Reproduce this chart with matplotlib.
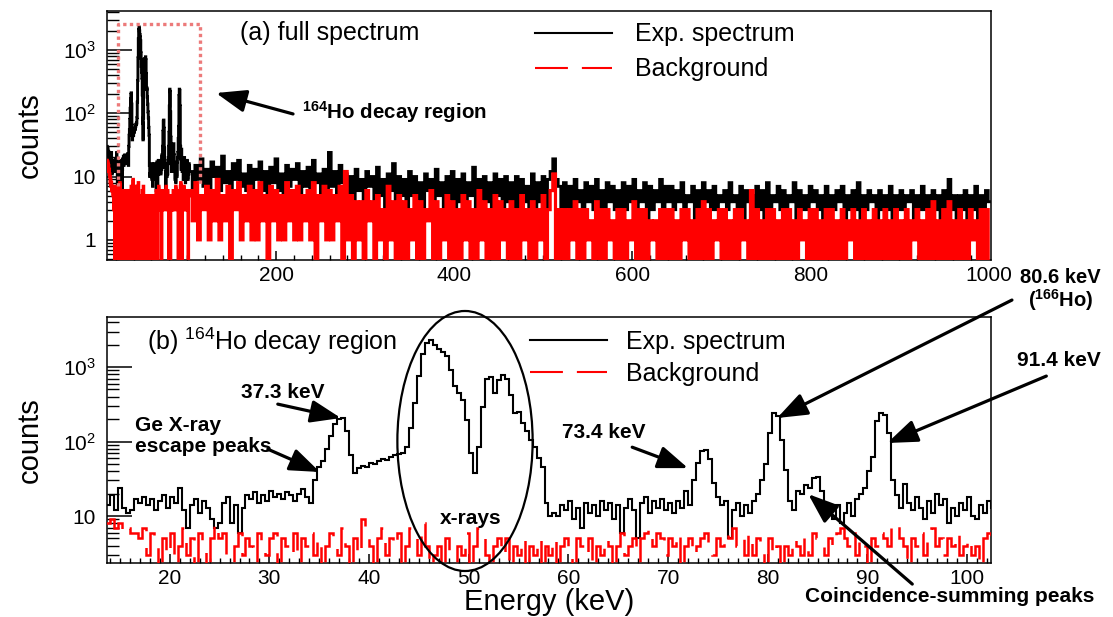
import numpy as np
import matplotlib
matplotlib.use('Agg')
import matplotlib.pyplot as plt
from matplotlib.lines import Line2D
from matplotlib.patches import Ellipse
from matplotlib.ticker import MultipleLocator, LogLocator, FuncFormatter, NullFormatter

plt.rcParams['font.family'] = ['Liberation Sans', 'DejaVu Sans']
plt.rcParams['mathtext.fontset'] = 'custom'
plt.rcParams['mathtext.rm'] = 'Liberation Sans'
plt.rcParams['mathtext.it'] = 'Liberation Sans:italic'
plt.rcParams['mathtext.bf'] = 'Liberation Sans:bold'

# ---- spectrum data -------------------------------------------------------
# lowest channels (10 - 13.6 keV), 0.4 keV bins
lo_start, lo_width = 10.0, 0.4
exp_lo = [30, 26, 28, 22, 25, 20, 24, 19, 21]
bkg_lo = [18, 16, 17, 14, 15, 12, 13, 11, 10]

# 164Ho decay region (13.6 - 102.8 keV), 0.4 keV bins
zoom_start, zoom_width = 13.6, 0.4
exp_zoom = [
    14, 19, 12, 24, 13, 11, 12, 17, 15, 18,
    14, 17, 12, 16, 19, 13, 18, 15, 24, 12,
    7, 14, 17, 11, 16, 13, 9, 7, 8, 15,
    18, 8, 14, 6, 13, 19, 17, 21, 15, 19,
    16, 22, 18, 20, 17, 21, 19, 16, 20, 23,
    18, 15, 30, 45, 55, 80, 120, 170, 200, 210,
    140, 65, 38, 44, 47, 45, 52, 50, 55, 58,
    56, 62, 66, 68, 70, 85, 150, 330, 750, 1500,
    2100, 2300, 2000, 1750, 1600, 1400, 900, 550, 450, 360,
    195, 70, 38, 84, 290, 700, 730, 450, 670, 780,
    700, 420, 240, 250, 180, 140, 105, 84, 60, 45,
    15, 10, 11, 10, 14, 12, 16, 9, 13, 7,
    15, 11, 14, 10, 16, 12, 15, 9, 14, 6,
    13, 17, 12, 5, 15, 18, 11, 16, 13, 17,
    12, 15, 11, 16, 13, 22, 14, 30, 52, 75,
    78, 58, 28, 18, 14, 16, 5, 12, 15, 10,
    14, 11, 16, 20, 30, 50, 130, 240, 220, 105,
    42, 16, 12, 22, 20, 26, 24, 32, 33, 22,
    15, 12, 9, 14, 8, 11, 15, 10, 17, 20,
    24, 40, 62, 190, 240, 230, 130, 30, 19, 13,
    27, 15, 12, 18, 13, 9, 16, 11, 20, 14,
    17, 8, 13, 10, 15, 12, 18, 10, 9, 14,
    11, 16, 13,
]
bkg_zoom = [
    8, 9, 7, 8, 6, 7, 6, 6, 5, 7,
    3, 6, 4, 0, 5, 3, 6, 0, 4, 7,
    3, 5, 0, 6, 4, 0, 5, 8, 5, 6,
    3, 0, 4, 6, 3, 5, 4, 0, 6, 4,
    3, 5, 6, 0, 5, 4, 3, 6, 0, 5,
    4, 6, 3, 5, 0, 4, 6, 5, 3, 7,
    4, 0, 5, 3, 9, 6, 4, 0, 5, 7,
    3, 5, 4, 6, 0, 4, 7, 5, 3, 8,
    4, 0, 3, 4, 0, 5, 3, 0, 4, 3,
    6, 0, 4, 7, 5, 3, 0, 4, 5, 3,
    5, 0, 4, 3, 5, 0, 4, 3, 5, 0,
    4, 3, 5, 0, 4, 5, 3, 0, 5, 4,
    3, 5, 0, 4, 3, 5, 4, 0, 4, 6,
    3, 4, 5, 0, 5, 6, 7, 4, 6, 5,
    3, 5, 4, 6, 0, 4, 5, 3, 4, 5,
    6, 4, 3, 5, 4, 6, 5, 7, 4, 5,
    3, 6, 3, 5, 4, 0, 5, 3, 4, 0,
    4, 3, 5, 4, 3, 5, 3, 6, 5, 4,
    3, 5, 4, 6, 7, 5, 4, 6, 3, 5,
    4, 0, 5, 4, 6, 5, 4, 7, 8, 5,
    4, 0, 5, 4, 6, 3, 5, 7, 4, 5,
    3, 5, 4, 6, 3, 4, 5, 3, 4, 0,
    5, 6, 5,
]

# rest of the full spectrum (102.8 - 1002.8 keV), 3 keV bins
hi_start, hi_width = 102.8, 3.0
exp_hi = [
    12, 6, 15, 9, 19, 7, 13, 5, 17, 10, 14, 6, 21, 8, 12, 5, 16, 9, 18, 7,
    11, 6, 15, 4, 13, 9, 17, 6, 12, 5, 14, 8, 19, 6, 11, 4, 15, 7, 13, 9,
    16, 5, 12, 7, 14, 4, 18, 8, 11, 5, 13, 6, 24, 7, 12, 5, 15, 8, 11, 4,
    10, 4, 13, 6, 9, 3, 12, 7, 10, 4, 14, 5, 9, 3, 11, 6, 16, 4, 10, 5,
    9, 3, 12, 5, 10, 4, 8, 2, 11, 6, 9, 3, 13, 5, 8, 3, 10, 4, 12, 2,
    9, 4, 11, 3, 8, 5, 14, 3, 9, 2, 10, 4, 8, 3, 11, 5, 9, 2, 10, 4,
    8, 3, 10, 2, 9, 4, 7, 2, 11, 3, 8, 4, 10, 3, 9, 12, 19, 9, 7, 3,
    8, 3, 7, 3, 9, 4, 6, 3, 8, 4, 7, 3, 9, 3, 6, 3, 8, 4, 7, 3,
    6, 3, 8, 3, 7, 4, 9, 3, 6, 4, 8, 1, 7, 3, 6, 4, 9, 3, 7, 4,
    7, 3, 6, 4, 8, 3, 5, 4, 7, 2, 6, 3, 8, 4, 6, 3, 7, 3, 5, 4,
    6, 3, 8, 4, 5, 3, 7, 2, 6, 4, 5, 3, 7, 3, 6, 1, 8, 3, 5, 4,
    7, 3, 6, 3, 5, 4, 8, 2, 6, 3, 5, 3, 7, 4, 6, 3, 5, 2, 7, 3,
    5, 3, 6, 4, 7, 2, 5, 3, 6, 3, 8, 2, 5, 3, 6, 4, 5, 1, 6, 3,
    5, 3, 7, 2, 5, 3, 6, 3, 5, 4, 6, 2, 5, 3, 7, 3, 5, 2, 6, 3,
    5, 2, 6, 3, 9, 3, 5, 2, 5, 3, 6, 1, 5, 3, 7, 2, 5, 3, 6, 4,
]
bkg_hi = [
    6, 2, 8, 1, 5, 3, 7, 1, 6, 2, 9, 1, 5, 2, 7, 0, 6, 3, 8, 1,
    5, 2, 7, 1, 6, 1, 8, 2, 5, 0, 7, 2, 6, 1, 5, 1, 8, 2, 6, 1,
    7, 1, 5, 2, 6, 1, 8, 0, 5, 2, 7, 1, 6, 1, 5, 2, 7, 0, 12, 1,
    5, 0, 4, 1, 4, 0, 6, 2, 4, 0, 5, 1, 3, 0, 7, 1, 4, 0, 5, 0,
    4, 0, 3, 1, 5, 0, 4, 0, 3, 2, 6, 0, 4, 0, 3, 1, 5, 0, 4, 0,
    3, 0, 5, 1, 4, 0, 3, 0, 6, 1, 4, 0, 3, 0, 5, 0, 4, 1, 3, 0,
    4, 0, 3, 0, 5, 1, 3, 0, 4, 0, 3, 1, 5, 0, 3, 6, 11, 0, 3, 0,
    3, 0, 3, 1, 4, 0, 3, 0, 3, 1, 2, 0, 4, 0, 3, 0, 3, 1, 2, 0,
    3, 0, 3, 0, 2, 1, 4, 0, 3, 0, 3, 0, 2, 1, 2, 0, 3, 0, 3, 0,
    3, 0, 2, 0, 3, 1, 3, 0, 2, 0, 3, 0, 4, 0, 3, 0, 2, 1, 3, 0,
    3, 0, 2, 0, 3, 0, 3, 1, 2, 0, 6, 0, 3, 0, 2, 0, 3, 0, 3, 0,
    2, 0, 3, 0, 3, 0, 2, 0, 3, 1, 2, 0, 3, 0, 3, 0, 2, 0, 3, 0,
    3, 0, 2, 0, 3, 0, 2, 1, 3, 0, 2, 0, 3, 0, 2, 0, 3, 0, 2, 0,
    3, 0, 2, 0, 3, 0, 2, 0, 3, 0, 2, 1, 3, 0, 2, 0, 3, 0, 4, 0,
    2, 0, 3, 0, 4, 0, 2, 0, 3, 0, 2, 0, 3, 1, 2, 0, 3, 0, 3, 0,
]

# bin edges
zoom_edges = zoom_start + zoom_width * np.arange(len(exp_zoom) + 1)
full_edges = np.concatenate([
    lo_start + lo_width * np.arange(len(exp_lo)),
    zoom_start + zoom_width * np.arange(len(exp_zoom)),
    hi_start + hi_width * np.arange(len(exp_hi) + 1),
])
exp_full = np.concatenate([exp_lo, exp_zoom, exp_hi])
bkg_full = np.concatenate([bkg_lo, bkg_zoom, bkg_hi])

# ---- styles --------------------------------------------------------------
LW = 1.5
BKG_DASH = (0, (15.8, 6.7))
arrow_kw = dict(arrowstyle='-|>,head_length=0.8,head_width=0.3',
                mutation_scale=23, lw=2.3, color='black',
                shrinkA=0, shrinkB=0)
note_kw = dict(fontsize=15, fontweight='bold', color='black')


def decade_label(v, pos):
    n = int(round(np.log10(v)))
    if n == 0:
        return '1'
    if n == 1:
        return '10'
    return r'$\mathregular{10^{%d}}$' % n


def style_axis(ax):
    ax.set_yscale('log')
    ax.yaxis.set_major_locator(LogLocator(base=10))
    ax.yaxis.set_minor_locator(LogLocator(base=10, subs=np.arange(2, 10)))
    ax.yaxis.set_major_formatter(FuncFormatter(decade_label))
    ax.yaxis.set_minor_formatter(NullFormatter())
    ax.tick_params(axis='y', which='major', direction='in', length=18,
                   width=1.1, labelsize=15, pad=8)
    ax.tick_params(axis='y', which='minor', direction='in', length=8.5,
                   width=1.0)
    ax.tick_params(axis='x', which='major', direction='in', length=6.5,
                   width=1.1, labelsize=15, pad=4)
    ax.tick_params(axis='x', which='minor', direction='in', length=3.3,
                   width=1.0)
    for sp in ax.spines.values():
        sp.set_linewidth(1.1)
    ax.set_ylabel('counts', fontsize=21, labelpad=14)


legend_handles = [
    Line2D([], [], color='black', lw=LW),
    Line2D([], [], color='red', lw=LW, linestyle=BKG_DASH),
]
legend_labels = ['Exp. spectrum', 'Background']

fig = plt.figure(figsize=(11.13, 6.17), dpi=100)
ax_a = fig.add_axes([0.0961, 0.5786, 0.7943, 0.4036])
ax_b = fig.add_axes([0.0961, 0.0875, 0.7943, 0.3987])

# ---- (a) full spectrum ---------------------------------------------------
# dense binning: draw thicker so the channels merge into a band
ax_a.stairs(exp_full, full_edges, color='black', lw=2.1, baseline=None,
            fill=False, zorder=2)
ax_a.stairs(bkg_full, full_edges, color='red', lw=2.3, baseline=None,
            fill=False, zorder=3)
style_axis(ax_a)
ax_a.set_xlim(10, 1003)
ax_a.set_ylim(0.48, 4130)
ax_a.xaxis.set_major_locator(MultipleLocator(200))
ax_a.xaxis.set_minor_locator(MultipleLocator(20))

# dotted frame around the decay region
ax_a.plot([22.4, 22.4, 114.5, 114.5], [7, 2570, 2570, 7], color='#ec7a7a',
          lw=2.4, linestyle=(0, (1, 1)), zorder=4)
ax_a.text(0.1505, 0.912, '(a) full spectrum', transform=ax_a.transAxes,
          fontsize=18, ha='left', va='center')
ax_a.annotate('', xy=(132.5, 209), xytext=(219, 97.5), arrowprops=arrow_kw)
ax_a.text(229, 105, r'$^{\mathbf{164}}$Ho decay region', fontsize=14.8,
          fontweight='bold', ha='left', va='center')
ax_a.legend(legend_handles, legend_labels, loc='upper left',
            bbox_to_anchor=(0.484, 0.954), frameon=False, fontsize=18,
            handlelength=3.1, handletextpad=0.9, labelspacing=0.44,
            borderpad=0, borderaxespad=0)

# ---- (b) 164Ho decay region ----------------------------------------------
ax_b.stairs(exp_zoom, zoom_edges, color='black', lw=LW, baseline=None,
            fill=False, zorder=2)
ax_b.stairs(bkg_zoom, zoom_edges, color='red', lw=1.8, baseline=None,
            fill=False, linestyle=BKG_DASH, zorder=3)
style_axis(ax_b)
ax_b.set_xlim(13.7, 102.4)
ax_b.set_ylim(2.34, 4700)
ax_b.xaxis.set_major_locator(MultipleLocator(10))
ax_b.xaxis.set_minor_locator(MultipleLocator(1))
ax_b.set_xlabel('Energy (keV)', fontsize=21, labelpad=0)

ax_b.text(0.045, 0.902, r'(b) $^{164}$Ho decay region',
          transform=ax_b.transAxes, fontsize=18, ha='left', va='center')
ax_b.legend(legend_handles, legend_labels, loc='upper left',
            bbox_to_anchor=(0.4785, 0.949), frameon=False, fontsize=18,
            handlelength=3.1, handletextpad=0.75, labelspacing=0.32,
            borderpad=0, borderaxespad=0)

ax_b.add_patch(Ellipse((0.405, 0.496), 0.153, 1.057, transform=ax_b.transAxes,
                       fill=False, edgecolor='black', lw=1.6, clip_on=False,
                       zorder=5))
ax_b.text(50.2, 9.4, 'x-rays', ha='center', va='center', **note_kw)

ax_b.text(31.35, 462, '37.3 keV', ha='center', va='center', **note_kw)
ax_b.annotate('', xy=(37.17, 207), xytext=(30.84, 318), arrowprops=arrow_kw)
ax_b.text(16.5, 119, 'Ge X-ray\nescape peaks', ha='left', va='center',
          linespacing=1.1, **note_kw)
ax_b.annotate('', xy=(35.06, 39), xytext=(29.84, 79), arrowprops=arrow_kw)

ax_b.text(63.57, 134, '73.4 keV', ha='center', va='center', **note_kw)
ax_b.annotate('', xy=(72.0, 44), xytext=(66.4, 84), arrowprops=arrow_kw)

ax_b.text(109.36, 16100, '80.6 keV', ha='center', va='center', clip_on=False,
          fontsize=14.5, fontweight='bold')
ax_b.text(109.36, 8000, r'($^{\mathbf{166}}$Ho)', ha='center', va='center',
          clip_on=False, fontsize=14.5, fontweight='bold')
ax_b.annotate('', xy=(80.94, 207), xytext=(104.5, 7940), arrowprops=arrow_kw,
              annotation_clip=False)

ax_b.text(109.16, 1240, '91.4 keV', ha='center', va='center', clip_on=False,
          **note_kw)
ax_b.annotate('', xy=(91.99, 95.6), xytext=(107.95, 757),
              arrowprops=arrow_kw, annotation_clip=False)

ax_b.text(98.3, 0.82, 'Coincidence-summing peaks', ha='center', va='center',
          clip_on=False, fontsize=15, fontweight='bold')
ax_b.annotate('', xy=(84.06, 19.7), xytext=(94.5, 1.22), arrowprops=arrow_kw,
              annotation_clip=False)

fig.savefig('out.png', dpi=100)
